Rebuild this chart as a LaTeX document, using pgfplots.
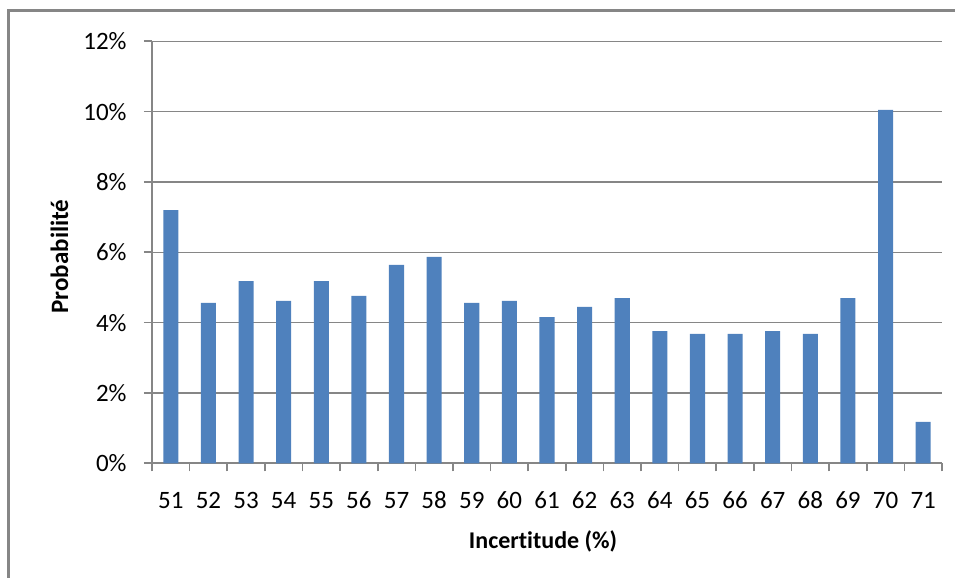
\documentclass[border=0pt]{standalone}
\usepackage{fontspec}
\setmainfont{Carlito}[Ligatures=NoCommon]
\usepackage{pgfplots}
\pgfplotsset{compat=1.18}
\definecolor{barblue}{HTML}{4F81BD}
\definecolor{axgray}{HTML}{868686}
\begin{document}
\begin{tikzpicture}
\useasboundingbox (0,0) rectangle (477.5pt,289pt);
\draw[axgray, line width=1.5pt] (4pt,0) -- (4pt,283.5pt) -- (477.5pt,283.5pt);
\begin{axis}[
  at={(76pt,57.35pt)}, anchor=south west,
  scale only axis, width=395pt, height=211pt,
  xmin=50.5, xmax=71.5, ymin=0, ymax=12,
  axis x line*=bottom, axis y line*=left,
  axis line style={axgray, line width=0.8pt},
  xtick={51,...,71},
  minor xtick={50.5,51.5,...,71.5},
  ytick={0,2,...,12},
  yticklabel={\pgfmathprintnumber{\tick}\%},
  tick align=outside,
  major tick length=4pt, minor tick length=4pt,
  every major x tick/.style={draw=none},
  tick style={axgray, line width=0.8pt},
  ymajorgrids, grid style={axgray, line width=0.7pt},
  /pgf/number format/assume math mode=true,
  ticklabel style={font=\fontsize{12.5}{14}\selectfont},
  yticklabel style={anchor=east, inner sep=0pt, xshift=-8.5pt},
  xticklabel style={anchor=base, inner sep=0pt, yshift=-18.5pt},
  xlabel={\textbf{Incertitude (\%)}},
  ylabel={\textbf{Probabilité}},
  xlabel style={font=\fontsize{12}{14}\selectfont, at={(axis description cs:0.495,-0.185)}, anchor=center},
  ylabel style={font=\fontsize{12.5}{14}\selectfont, at={(axis description cs:-0.117,0.49)}, anchor=center, rotate=0},
  clip=false,
]
\addplot[ybar, bar width=0.4, fill=barblue, draw=none] coordinates {
(51,7.20) (52,4.56) (53,5.18) (54,4.62) (55,5.18) (56,4.76) (57,5.64)
(58,5.87) (59,4.56) (60,4.62) (61,4.16) (62,4.45) (63,4.70) (64,3.76)
(65,3.68) (66,3.68) (67,3.76) (68,3.68) (69,4.70) (70,10.05) (71,1.18)
};
\end{axis}
\end{tikzpicture}
\end{document}
